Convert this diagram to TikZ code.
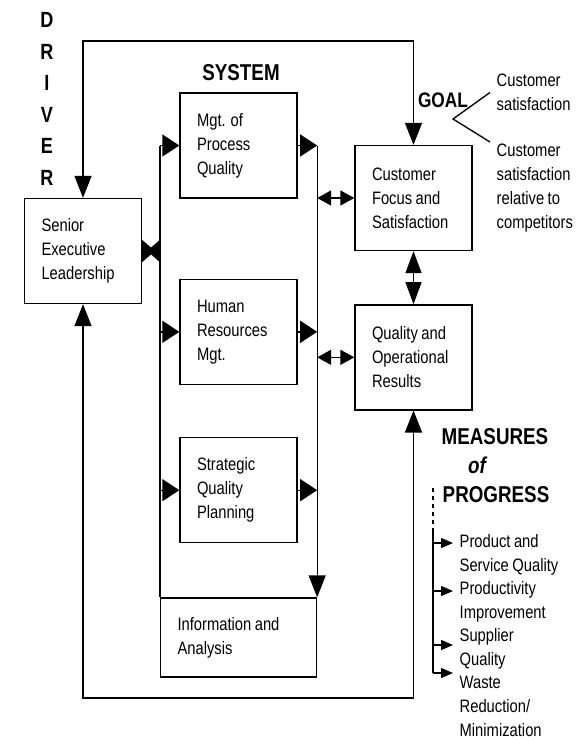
\documentclass[tikz,border=0pt]{standalone}
\usepackage{fontspec}
\setmainfont{Liberation Sans}[FakeStretch=0.82, WordSpace=0.85]
\usetikzlibrary{positioning,arrows.meta}

\tikzset{
  htip/.tip={Triangle[length=12.75pt,width=16.5pt]},
  vtip/.tip={Triangle[length=16.5pt,width=12.75pt]},
  hdbl/.tip={Triangle[length=10.5pt,width=11.25pt]},
  vdbl/.tip={Triangle[length=16.5pt,width=12pt]},
  bow/.tip={Triangle[reversed,length=9.5pt,width=16.5pt]},
  ltip/.tip={Triangle[length=9pt,width=7.5pt]},
}

\begin{document}
\begin{tikzpicture}[
  x=0.75pt, y=-0.75pt,
  font=\fontsize{13.5}{18}\selectfont,
  line width=1pt,
  box/.style={draw, align=flush left, text width=62.25pt, inner xsep=12.75pt, minimum height=78.75pt},
  head/.style={font=\fontsize{17.2}{20}\selectfont\bfseries},
  note/.style={align=left, inner xsep=4.5pt, inner ysep=1pt},
]
\useasboundingbox (0,0) rectangle (581,740);

% boxes
\node[box] (senior) at (83,251) {Senior\\Executive\\Leadership};
\node[box] (mgt) at (238.5,145.5) {Mgt. of\\Process\\Quality};
\node[box, below=60pt of mgt] (hr) {Human\\Resources\\Mgt.};
\node[box, below=39pt of hr] (sqp) {Strategic\\Quality\\Planning};
\node[box, text width=91.5pt, minimum height=59.25pt, below=40.5pt of sqp] (info) {Information and\\Analysis};
\node[box] (cf) at (413.5,198) {Customer\\Focus and\\Satisfaction};
\node[box, below=39.75pt of cf] (qor) {Quality and\\Operational\\Results};

% headings
\node[font=\fontsize{16.5}{23.7}\selectfont\bfseries, align=center] (driver) at (47,99) {D\\R\\I\\V\\E\\R};
\node[head] (system) at (241,73) {SYSTEM};
\node[head, font=\fontsize{15.8}{18}\selectfont\bfseries] (goal) at (443,100) {GOAL};
\node[head] (measures) at (495,437) {MEASURES};
\node[head, font=\fontsize{17.2}{20}\selectfont\bfseries\itshape] (ofword) at (477,465) {of};
\node[head] (progress) at (496,495) {PROGRESS};

% side notes
\node[note, anchor=west] (cs1) at (490,92.5) {Customer\\satisfaction};
\node[note, anchor=north west] (cs2) at (490,142) {Customer\\satisfaction\\relative to\\competitors};
\node[note, anchor=west] (pq) at (453,555) {Product and\\Service Quality};
\node[note, anchor=west] (pi) at (453,602) {Productivity\\Improvement};
\node[note, anchor=west] (sq) at (453,649) {Supplier\\Quality};
\node[note, anchor=west] (wr) at (453,706) {Waste\\Reduction/\\Minimization};

% system spine
\draw (info.north west) -- (info.north west |- mgt.west);
\foreach \b in {mgt,hr,sqp} {
  \draw[-htip] (info.north west |- \b.west) -- (\b.west);
  \draw[-htip] (\b.east) -- (info.north east |- \b.east);
}
\draw[-vtip] (info.north east |- mgt.east) -- (info.north east);
\draw[bow-bow] (senior.east) -- (info.north west |- senior.east);

% results
\draw[hdbl-hdbl] (info.north east |- cf.west) -- (cf.west);
\draw[hdbl-hdbl] (info.north east |- qor.west) -- (qor.west);
\draw[vdbl-vdbl] (cf.south) -- (qor.north);

% outer loop
\coordinate (top) at (240,41);
\coordinate (bot) at (240,698);
\draw[vtip-vtip] (senior.north) |- (top) -| (cf.north);
\draw[vtip-vtip] (senior.south) |- (bot) -| (qor.south);

% goal fork
\coordinate (fork) at (453,119);
\draw (cs1.west) -- (fork) -- (cs2.north west);

% measures list
\coordinate (dtop) at (433,488);
\coordinate (dmid) at (433,532);
\coordinate (m1) at (433,543);
\coordinate (m2) at (433,591);
\coordinate (m3) at (433,645);
\coordinate (m4) at (433,673);
\draw[dashed, line width=0.8pt] (dtop) -- (dmid);
\draw (dmid) -- (m4);
\draw[-ltip] (m1) -- (m1 -| pq.west);
\draw[-ltip] (m2) -- (m2 -| pi.west);
\draw[-ltip] (m3) -- (m3 -| sq.west);
\draw[-ltip] (m4) -- (m4 -| wr.west);
\end{tikzpicture}
\end{document}
